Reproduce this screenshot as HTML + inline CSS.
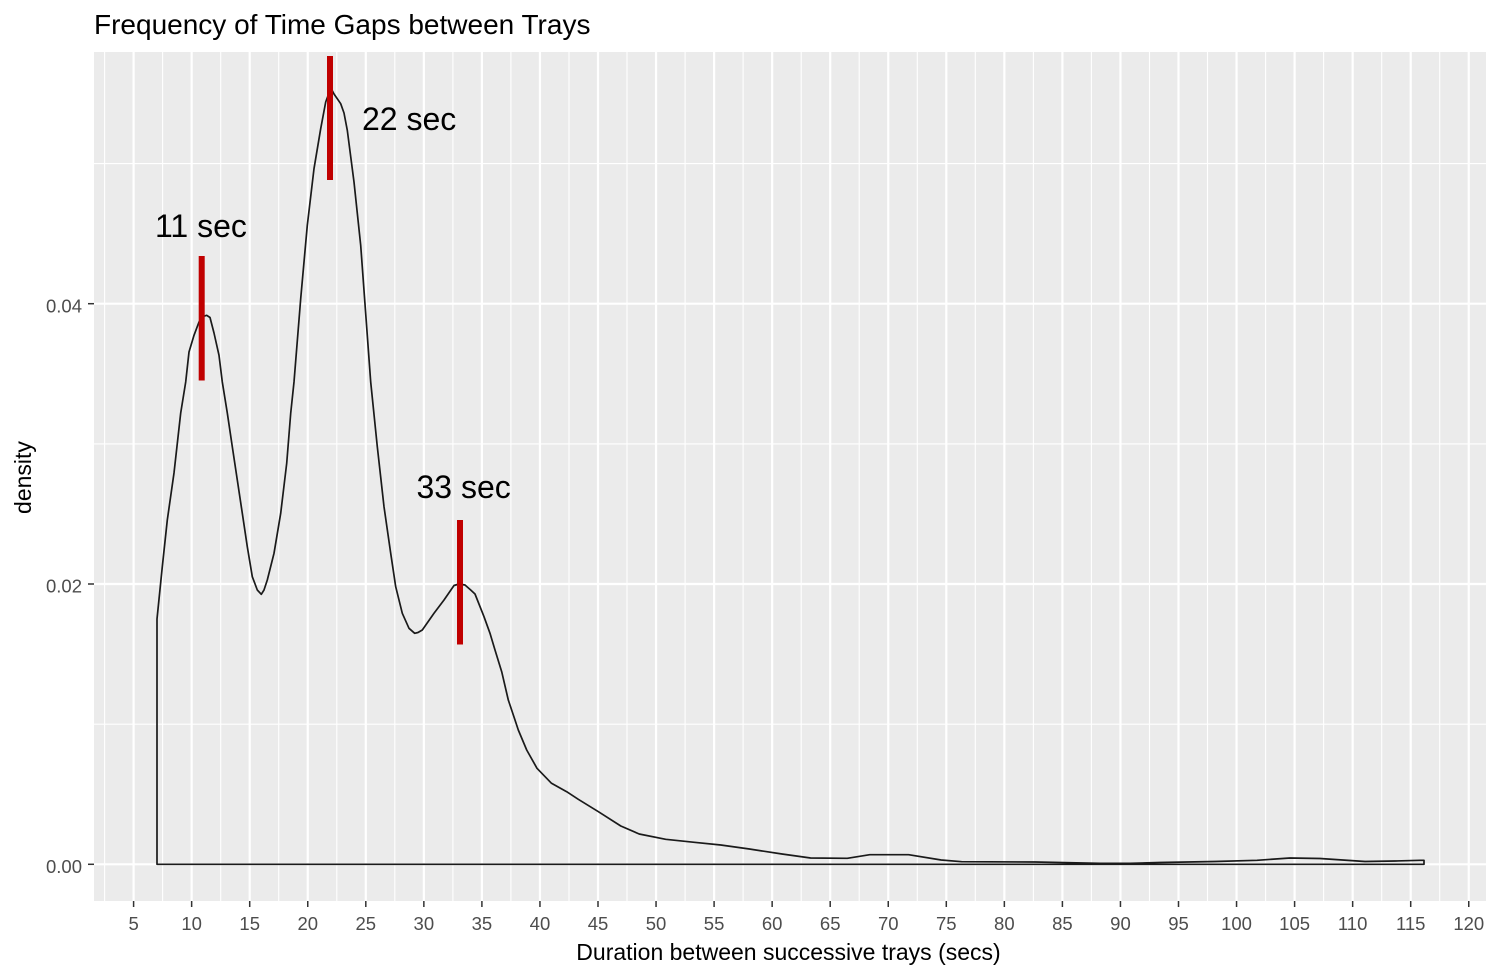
<!DOCTYPE html>
<html>
<head>
<meta charset="utf-8">
<style>
  html, body { margin: 0; padding: 0; background: #ffffff; }
  body { width: 1498px; height: 975px; overflow: hidden; }
  svg { display: block; }
  text { font-family: "Liberation Sans", Arial, sans-serif; }
</style>
</head>
<body>
<svg width="1498" height="975" viewBox="0 0 1498 975" xmlns="http://www.w3.org/2000/svg">
  <rect x="0" y="0" width="1498" height="975" fill="#ffffff"/>
  <!-- Title -->
  <text x="94" y="34" font-size="28" fill="#000000">Frequency of Time Gaps between Trays</text>

  <!-- Panel -->
  <rect x="94" y="52" width="1392" height="849" fill="#EBEBEB"/>

  <!-- Minor grid (horizontal) -->
  <g stroke="#ffffff" stroke-width="1.1" fill="none">
    <line x1="94" x2="1486" y1="724.2" y2="724.2"/>
    <line x1="94" x2="1486" y1="443.9" y2="443.9"/>
    <line x1="94" x2="1486" y1="163.6" y2="163.6"/>
  </g>
  <!-- Minor grid (vertical) -->
  <g stroke="#ffffff" stroke-width="1.1" fill="none">
    <line y1="52" y2="901" x1="104.6" x2="104.6"/>
    <line y1="52" y2="901" x1="162.6" x2="162.6"/>
    <line y1="52" y2="901" x1="220.7" x2="220.7"/>
    <line y1="52" y2="901" x1="278.7" x2="278.7"/>
    <line y1="52" y2="901" x1="336.8" x2="336.8"/>
    <line y1="52" y2="901" x1="394.8" x2="394.8"/>
    <line y1="52" y2="901" x1="452.9" x2="452.9"/>
    <line y1="52" y2="901" x1="510.9" x2="510.9"/>
    <line y1="52" y2="901" x1="569" x2="569"/>
    <line y1="52" y2="901" x1="627" x2="627"/>
    <line y1="52" y2="901" x1="685.1" x2="685.1"/>
    <line y1="52" y2="901" x1="743.1" x2="743.1"/>
    <line y1="52" y2="901" x1="801.2" x2="801.2"/>
    <line y1="52" y2="901" x1="859.2" x2="859.2"/>
    <line y1="52" y2="901" x1="917.3" x2="917.3"/>
    <line y1="52" y2="901" x1="975.3" x2="975.3"/>
    <line y1="52" y2="901" x1="1033.4" x2="1033.4"/>
    <line y1="52" y2="901" x1="1091.4" x2="1091.4"/>
    <line y1="52" y2="901" x1="1149.5" x2="1149.5"/>
    <line y1="52" y2="901" x1="1207.5" x2="1207.5"/>
    <line y1="52" y2="901" x1="1265.6" x2="1265.6"/>
    <line y1="52" y2="901" x1="1323.6" x2="1323.6"/>
    <line y1="52" y2="901" x1="1381.7" x2="1381.7"/>
    <line y1="52" y2="901" x1="1439.7" x2="1439.7"/>
  </g>
  <!-- Major grid (horizontal) -->
  <g stroke="#ffffff" stroke-width="2.2" fill="none">
    <line x1="94" x2="1486" y1="864.3" y2="864.3"/>
    <line x1="94" x2="1486" y1="584" y2="584"/>
    <line x1="94" x2="1486" y1="303.7" y2="303.7"/>
  </g>
  <!-- Major grid (vertical) -->
  <g stroke="#ffffff" stroke-width="2.2" fill="none">
    <line y1="52" y2="901" x1="133.6" x2="133.6"/>
    <line y1="52" y2="901" x1="191.65" x2="191.65"/>
    <line y1="52" y2="901" x1="249.7" x2="249.7"/>
    <line y1="52" y2="901" x1="307.75" x2="307.75"/>
    <line y1="52" y2="901" x1="365.8" x2="365.8"/>
    <line y1="52" y2="901" x1="423.85" x2="423.85"/>
    <line y1="52" y2="901" x1="481.9" x2="481.9"/>
    <line y1="52" y2="901" x1="539.95" x2="539.95"/>
    <line y1="52" y2="901" x1="598" x2="598"/>
    <line y1="52" y2="901" x1="656.05" x2="656.05"/>
    <line y1="52" y2="901" x1="714.1" x2="714.1"/>
    <line y1="52" y2="901" x1="772.15" x2="772.15"/>
    <line y1="52" y2="901" x1="830.2" x2="830.2"/>
    <line y1="52" y2="901" x1="888.25" x2="888.25"/>
    <line y1="52" y2="901" x1="946.3" x2="946.3"/>
    <line y1="52" y2="901" x1="1004.35" x2="1004.35"/>
    <line y1="52" y2="901" x1="1062.4" x2="1062.4"/>
    <line y1="52" y2="901" x1="1120.45" x2="1120.45"/>
    <line y1="52" y2="901" x1="1178.5" x2="1178.5"/>
    <line y1="52" y2="901" x1="1236.55" x2="1236.55"/>
    <line y1="52" y2="901" x1="1294.6" x2="1294.6"/>
    <line y1="52" y2="901" x1="1352.65" x2="1352.65"/>
    <line y1="52" y2="901" x1="1410.7" x2="1410.7"/>
    <line y1="52" y2="901" x1="1468.75" x2="1468.75"/>
  </g>

  <!-- Density outline -->
  <path fill="none" stroke="#1a1a1a" stroke-width="1.7" stroke-linejoin="round"
    d="M157,864.3 L157,619 L162.3,566.7 L167.3,520 L174,473 L180.7,413 L185.7,382 L189,352 L194,335.3 L199,322 L203,316.5 L206.7,315.3 L210,317.5 L214,333 L219,355.3 L222.3,382 L227.3,413 L232.3,446.7 L237.3,480 L242.3,513.3 L247.3,546.7 L252.3,576.7 L257.3,590 L261.3,594.3 L264,590 L267.3,580 L274,553.3 L280.7,513.3 L286.7,463.3 L290.7,413.3 L294,382 L300.7,298.7 L307.3,225.3 L314,168.7 L320.7,128.7 L325.7,102 L329,93 L331.3,88.7 L334,94 L340.7,103.7 L344,113 L347.3,130.3 L354,182 L360.7,245.3 L370.7,382 L377.3,446.7 L384,506.7 L390.7,553.3 L395.7,586.7 L402.3,613.3 L409,628.3 L414.7,633.3 L418,632.5 L422.3,630 L434,613.3 L444,600 L454,585.5 L459,584 L465,585 L470.7,590 L475,594 L484,616.7 L490,633.3 L495,650 L501.7,671.7 L508.3,700 L515,720 L518.3,730 L526.7,750 L537,768.3 L551.5,783.3 L566.7,791.7 L578.3,799.3 L598.4,811.7 L620.8,826 L639.2,834 L665.7,839.3 L694.3,842.3 L720.8,845 L749.4,849 L782,854 L810.6,858 L847.3,858.3 L869.8,854.7 L908.6,854.7 L941.2,860 L961.6,861.7 L1035,862 L1100,863.3 L1130,863.3 L1160,862.5 L1215,861.5 L1257,860.3 L1290,858 L1320,858.5 L1365,861.5 L1395,861 L1420,860.3 L1424,860.3 L1424,864.3 Z"/>

  <!-- Red annotation bars -->
  <rect x="198.7" y="256" width="6" height="124.5" fill="#C00000"/>
  <rect x="327" y="56" width="6" height="124" fill="#C00000"/>
  <rect x="457" y="520" width="6" height="124.5" fill="#C00000"/>

  <!-- Annotation labels -->
  <text x="155" y="237" font-size="32" fill="#000000">11 sec</text>
  <text x="362" y="130" font-size="32" fill="#000000">22 sec</text>
  <text x="416.5" y="498" font-size="32" fill="#000000">33 sec</text>

  <!-- Y axis ticks -->
  <g stroke="#333333" stroke-width="1.5">
    <line x1="88" x2="94" y1="864.3" y2="864.3"/>
    <line x1="88" x2="94" y1="584" y2="584"/>
    <line x1="88" x2="94" y1="303.7" y2="303.7"/>
  </g>
  <g font-size="18.5" fill="#4D4D4D" text-anchor="end">
    <text x="82" y="873">0.00</text>
    <text x="82" y="592.5">0.02</text>
    <text x="82" y="312.3">0.04</text>
  </g>

  <!-- X axis ticks -->
  <g stroke="#333333" stroke-width="1.5">
    <line y1="901" y2="907" x1="133.6" x2="133.6"/>
    <line y1="901" y2="907" x1="191.65" x2="191.65"/>
    <line y1="901" y2="907" x1="249.7" x2="249.7"/>
    <line y1="901" y2="907" x1="307.75" x2="307.75"/>
    <line y1="901" y2="907" x1="365.8" x2="365.8"/>
    <line y1="901" y2="907" x1="423.85" x2="423.85"/>
    <line y1="901" y2="907" x1="481.9" x2="481.9"/>
    <line y1="901" y2="907" x1="539.95" x2="539.95"/>
    <line y1="901" y2="907" x1="598" x2="598"/>
    <line y1="901" y2="907" x1="656.05" x2="656.05"/>
    <line y1="901" y2="907" x1="714.1" x2="714.1"/>
    <line y1="901" y2="907" x1="772.15" x2="772.15"/>
    <line y1="901" y2="907" x1="830.2" x2="830.2"/>
    <line y1="901" y2="907" x1="888.25" x2="888.25"/>
    <line y1="901" y2="907" x1="946.3" x2="946.3"/>
    <line y1="901" y2="907" x1="1004.35" x2="1004.35"/>
    <line y1="901" y2="907" x1="1062.4" x2="1062.4"/>
    <line y1="901" y2="907" x1="1120.45" x2="1120.45"/>
    <line y1="901" y2="907" x1="1178.5" x2="1178.5"/>
    <line y1="901" y2="907" x1="1236.55" x2="1236.55"/>
    <line y1="901" y2="907" x1="1294.6" x2="1294.6"/>
    <line y1="901" y2="907" x1="1352.65" x2="1352.65"/>
    <line y1="901" y2="907" x1="1410.7" x2="1410.7"/>
    <line y1="901" y2="907" x1="1468.75" x2="1468.75"/>
  </g>
  <g font-size="18.5" fill="#4D4D4D" text-anchor="middle">
    <text x="133.6" y="930">5</text>
    <text x="191.65" y="930">10</text>
    <text x="249.7" y="930">15</text>
    <text x="307.75" y="930">20</text>
    <text x="365.8" y="930">25</text>
    <text x="423.85" y="930">30</text>
    <text x="481.9" y="930">35</text>
    <text x="539.95" y="930">40</text>
    <text x="598" y="930">45</text>
    <text x="656.05" y="930">50</text>
    <text x="714.1" y="930">55</text>
    <text x="772.15" y="930">60</text>
    <text x="830.2" y="930">65</text>
    <text x="888.25" y="930">70</text>
    <text x="946.3" y="930">75</text>
    <text x="1004.35" y="930">80</text>
    <text x="1062.4" y="930">85</text>
    <text x="1120.45" y="930">90</text>
    <text x="1178.5" y="930">95</text>
    <text x="1236.55" y="930">100</text>
    <text x="1294.6" y="930">105</text>
    <text x="1352.65" y="930">110</text>
    <text x="1410.7" y="930">115</text>
    <text x="1468.75" y="930">120</text>
  </g>

  <!-- Axis titles -->
  <text x="788.5" y="960" font-size="23" fill="#000000" text-anchor="middle">Duration between successive trays (secs)</text>
  <text transform="translate(31,477.5) rotate(-90)" x="0" y="0" font-size="23" fill="#000000" text-anchor="middle">density</text>
</svg>
</body>
</html>
